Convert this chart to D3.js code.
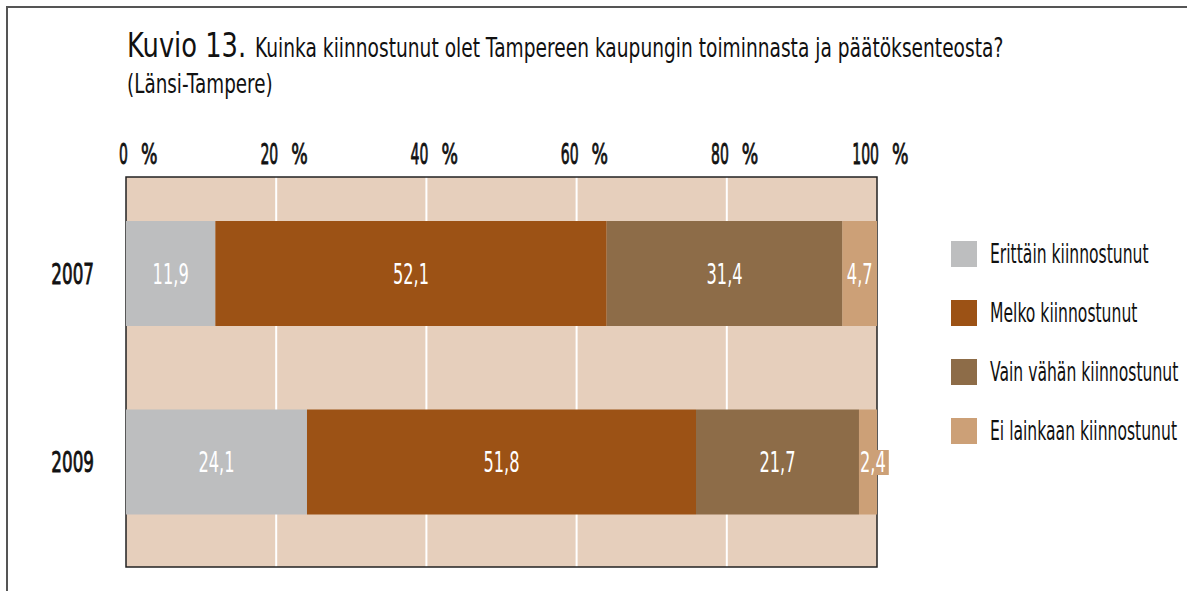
<!DOCTYPE html>
<html>
<head>
<meta charset="utf-8">
<script src="https://cdn.jsdelivr.net/npm/d3@7"></script>
<style>
 body { margin:0; background:#fff; }
 svg text { font-family:"DejaVu Sans",sans-serif; fill:#111; }
</style>
</head>
<body>
<script>
// data
var years=['2007','2009'];
var categories=['Erittäin kiinnostunut','Melko kiinnostunut','Vain vähän kiinnostunut','Ei lainkaan kiinnostunut'];
var values2007=[11.9,52.1,31.4,4.7];
var values2009=[24.1,51.8,21.7,2.4];
var tickvals=[0,20,40,60,80,100];
var colors=['#bdbebf','#9c5215','#8d6c48','#cca077'];

// layout
var wid=1187, hgh=591;
var pl=126, pr=877, pt=177, pb=567; // plot box
var bgcol='#e6cfbc';

var svg=d3.select('body').append('svg').attr('width',wid).attr('height',hgh);

// narrow text: the reference uses a condensed face, so squeeze horizontally
function ntext(parent,x,y,size,sx,anchor,str) {
 return parent.append('text')
   .attr('transform','translate('+x+','+y+') scale('+sx+',1)')
   .attr('font-size',size).attr('text-anchor',anchor||'start').text(str);
}
function heavy(t) { // a bit heavier than book weight
 return t.attr('stroke','#111').attr('stroke-width',0.9);
}

// frame
svg.append('path').attr('d','M7,'+hgh+' V7 H'+wid)
  .attr('fill','none').attr('stroke','#555').attr('stroke-width',2);

// title
ntext(svg,pl+1,57,33,0.78,'start','Kuvio 13.');
ntext(svg,255,57,27,0.69,'start','Kuinka kiinnostunut olet Tampereen kaupungin toiminnasta ja päätöksenteosta?');
ntext(svg,pl+1,93,27,0.68,'start','(Länsi-Tampere)');

var x=d3.scaleLinear().domain([0,100]).range([pl,pr]);
var y=d3.scaleBand().domain(years).range([pt,pb]).paddingInner(0.443).paddingOuter(0.256).align(0.456);

// plot background and gridlines
svg.append('rect').attr('x',pl).attr('y',pt).attr('width',pr-pl).attr('height',pb-pt).attr('fill',bgcol);
svg.selectAll('line.grid').data(tickvals.slice(1,-1)).enter()
  .append('line').attr('class','grid')
  .attr('x1',function (d) {return x(d);}).attr('x2',function (d) {return x(d);})
  .attr('y1',pt).attr('y2',pb).attr('stroke','#fff').attr('stroke-width',2);
svg.append('rect').attr('x',pl).attr('y',pt).attr('width',pr-pl).attr('height',pb-pt)
  .attr('fill','none').attr('stroke','#222').attr('stroke-width',1.5);

// tick labels: number ends near the gridline, % after a wide gap
tickvals.forEach(function (d) {
  heavy(ntext(svg,x(d)+2,164,28,0.5,'end',d));
  heavy(ntext(svg,x(d)+15,164,28,0.62,'start','%'));
});

// stacked bars
var rows=[values2007,values2009];
var stacked=rows.map(function (vals,r) {
  var c=0;
  return vals.map(function (v,i) {
    var s={year:years[r],i:i,v:v,x0:c,x1:c+v};
    c+=v;
    return s;
  });
});
var seg=svg.selectAll('g.row').data(stacked).enter().append('g').attr('class','row')
  .selectAll('g.seg').data(function (d) {return d;}).enter().append('g').attr('class','seg');
seg.append('rect')
  .attr('x',function (d) {return x(d.x0);})
  .attr('width',function (d) {return x(Math.min(d.x1,100))-x(d.x0);})
  .attr('y',function (d) {return y(d.year);})
  .attr('height',y.bandwidth())
  .attr('fill',function (d) {return colors[d.i];});
var vsx=0.58;
seg.each(function (d) {
  var g=d3.select(this);
  var x0=x(d.x0), x1=x(Math.min(d.x1,100));
  var cx=(x0+x1)/2;
  var cy=y(d.year)+y.bandwidth()/2;
  var t=ntext(g,cx,cy+10,28,vsx,'middle',String(d.v).replace('.',','));
  t.style('fill','#fff');
  var w=t.node().getComputedTextLength()*vsx;
  if (w+4>x1-x0) { // label wider than the segment: small box behind it
    t.attr('text-anchor','start').attr('transform','translate('+(x0+1)+','+(cy+10)+') scale('+vsx+',1)');
    g.insert('rect','text').attr('x',x0).attr('y',cy-12).attr('width',w+4).attr('height',25)
      .attr('fill',colors[d.i]);
  }
});

// year labels
years.forEach(function (d) {
  heavy(ntext(svg,94,y(d)+y.bandwidth()/2+10,28,0.6,'end',d));
});

// legend
var leg=svg.selectAll('g.leg').data(categories).enter().append('g').attr('class','leg')
  .attr('transform',function (d,i) {return 'translate(951,'+(241+i*59)+')';});
leg.append('rect').attr('width',26).attr('height',26).attr('fill',function (d,i) {return colors[i];});
leg.each(function (d) {
  ntext(d3.select(this),39,22,26,0.6,'start',d);
});
</script>
</body>
</html>
